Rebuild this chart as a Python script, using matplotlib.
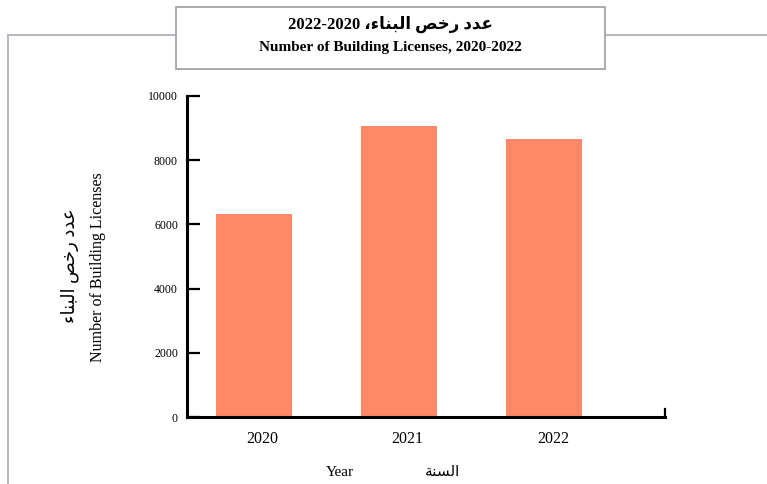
import matplotlib
matplotlib.use("Agg")
import matplotlib.pyplot as plt
from matplotlib.lines import Line2D
from matplotlib.patches import Rectangle

# ---- data ----
years = ["2020", "2021", "2022"]
licenses = [6320, 9060, 8660]
yticks = [0, 2000, 4000, 6000, 8000, 10000]

# Arabic text pre-shaped (presentation forms, visual order)
ar_title = "\uFE80\uFE8E\uFEE8\uFE92\uFEDF\uFE8D \uFEBA\uFEA7\uFEAD \uFEA9\uFEAA\uFECB"  # عدد رخص البناء
ar_year = "\uFE94\uFEE8\uFEB4\uFEDF\uFE8D"  # السنة

serif = ["Liberation Serif", "DejaVu Sans"]
plt.rcParams["font.family"] = serif

W, H = 767, 484
fig = plt.figure(figsize=(W / 100, H / 100), dpi=100)

# outer frame (top + left lines)
fc = "#b4b8bc"
fig.add_artist(Line2D([8 / W, 8 / W], [0, 1 - 35 / H], color=fc, lw=1.4, transform=fig.transFigure))
fig.add_artist(Line2D([8 / W, 1], [1 - 35 / H, 1 - 35 / H], color=fc, lw=1.4, transform=fig.transFigure))

# title box
bx0, bx1, by0, by1 = 176, 605, 7, 69
fig.add_artist(Rectangle((bx0 / W, 1 - by1 / H), (bx1 - bx0) / W, (by1 - by0) / H,
                         transform=fig.transFigure, facecolor="white", edgecolor="#9a9ea2", lw=1.2, zorder=5))
cx = (bx0 + bx1) / 2 / W
fig.text(cx, 1 - 24 / H, "2022-2020 \u060C" + ar_title, ha="center", va="center",
         fontsize=12, fontweight="bold", family=serif, zorder=6)
fig.text(cx, 1 - 48 / H, "Number of Building Licenses, 2020-2022", ha="center", va="center",
         fontsize=11, fontweight="bold", family=serif, zorder=6)

# axes
ax = fig.add_axes([187 / W, 1 - 417 / H, (665 - 187) / W, (417 - 96) / H])
x = list(range(len(years)))
ax.bar(x, licenses, width=0.52, color="#FF8866", zorder=2)
ax.set_xlim(-0.462, 2.834)
ax.set_ylim(0, 10000)

for s in ["top", "right"]:
    ax.spines[s].set_visible(False)
for s in ["left", "bottom"]:
    ax.spines[s].set_linewidth(2.2)
    ax.spines[s].set_color("black")

ax.set_yticks(yticks)
ax.set_yticklabels([str(v) for v in yticks])
ax.tick_params(axis="y", direction="in", length=9.5, width=1.6, pad=6.5, labelsize=8.5)
ax.set_xticks([xi + 0.06 for xi in x])
ax.set_xticklabels(years)
ax.tick_params(axis="x", length=0, pad=10, labelsize=11.5)

# right end cap of x axis
ax.add_line(Line2D([1, 1], [0, 0.025], transform=ax.transAxes, color="black", lw=1.6, clip_on=False))

# y axis label (two lines)
fig.text(70 / W, 1 - 266 / H, ar_title, rotation=90, ha="center", va="center", fontsize=13, family=serif)
fig.text(98 / W, 1 - 267 / H, "Number of Building Licenses", rotation=90, ha="center", va="center",
         fontsize=11.5, family=serif)

# x axis label
fig.text(340 / W, 1 - 472 / H, "Year", ha="center", va="center", fontsize=11, family=serif)
fig.text(443 / W, 1 - 472 / H, ar_year, ha="center", va="center", fontsize=11, family=serif)

fig.savefig("out.png", dpi=100)
